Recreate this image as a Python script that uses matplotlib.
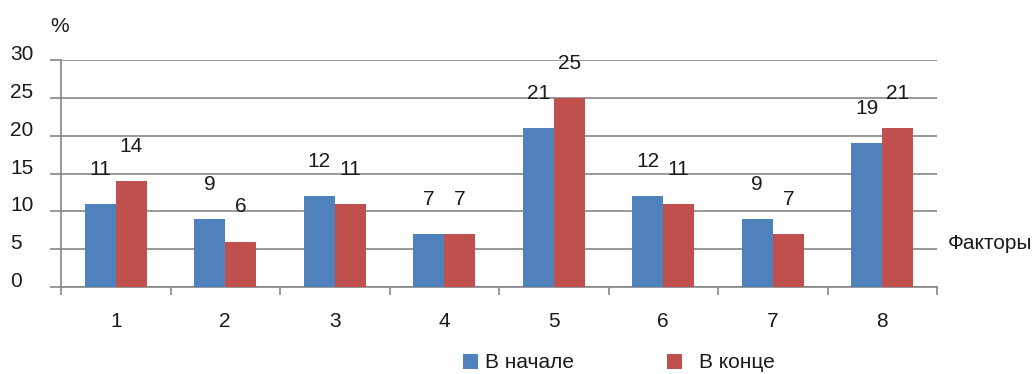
import matplotlib.pyplot as plt
import matplotlib.transforms as mtransforms
from matplotlib.patches import Patch
import numpy as np

plt.rcParams["font.family"] = ["Liberation Sans", "DejaVu Sans"]

# Данные по факторам, %
faktory = ["1", "2", "3", "4", "5", "6", "7", "8"]
v_nachale = [11, 9, 12, 7, 21, 12, 9, 19]
v_kontse = [14, 6, 11, 7, 25, 11, 7, 21]
y_ticks = [0, 5, 10, 15, 20, 25, 30]

cor_azul = "#4f81bd"
cor_verm = "#c0504d"
cor_grade = "#868686"
cor_texto = "#1a1a1a"
fonte = 15

fig = plt.figure(figsize=(10.35, 3.74), dpi=100)
ax = fig.add_axes([61 / 1035, 87 / 374, 876 / 1035, 227 / 374])

x = np.arange(len(faktory))
largura = 0.283

barras1 = ax.bar(x - largura / 2, v_nachale, largura, color=cor_azul, zorder=3)
barras2 = ax.bar(x + largura / 2, v_kontse, largura, color=cor_verm, zorder=3)

ax.set_xlim(-0.5, len(faktory) - 0.5)
ax.set_ylim(0, 30)

# rótulos de valor acima das barras
for barras, valores in [(barras1, v_nachale), (barras2, v_kontse)]:
    for b, v in zip(barras, valores):
        ax.annotate(str(v), (b.get_x() + b.get_width() / 2, v),
                    xytext=(0, 25), textcoords="offset points",
                    ha="center", va="center", fontsize=fonte, color=cor_texto)

# grade horizontal
ax.set_yticks(y_ticks)
ax.yaxis.grid(True, color=cor_grade, linewidth=1.2, zorder=0)
ax.tick_params(axis="y", length=8, width=1.2, color=cor_grade, labelleft=False)

# rótulos do eixo y alinhados à esquerda, apoiados na linha da grade
trans_y = mtransforms.blended_transform_factory(fig.transFigure, ax.transData)
for t in y_ticks:
    ax.text(10 / 1035, t, str(t), transform=trans_y, ha="left", va="baseline",
            fontsize=fonte, color=cor_texto)

# ticks do eixo x nas divisas, rótulos no centro
ax.set_xticks(np.arange(len(faktory) + 1) - 0.5)
ax.set_xticklabels([])
ax.set_xticks(x, minor=True)
ax.set_xticklabels(faktory, minor=True, fontsize=fonte, color=cor_texto)
ax.tick_params(axis="x", which="major", length=6, width=1.2, color=cor_grade)
ax.tick_params(axis="x", which="minor", length=0, pad=18)

for lado in ["top", "right"]:
    ax.spines[lado].set_visible(False)
for lado in ["left", "bottom"]:
    ax.spines[lado].set_color(cor_grade)
    ax.spines[lado].set_linewidth(1.2)

fig.text(50 / 1035, 1 - 26 / 374, "%", fontsize=fonte, color=cor_texto,
         ha="left", va="center")
fig.text(948 / 1035, 1 - 243 / 374, "Факторы", fontsize=fonte, color=cor_texto,
         ha="left", va="center")

# legenda em duas partes
leg1 = fig.legend([Patch(facecolor=cor_azul)], ["В начале"], loc="center left",
                  bbox_to_anchor=(444 / 1035, 1 - 363 / 374), frameon=False,
                  fontsize=fonte, handlelength=0.75, handleheight=0.75,
                  handletextpad=0.3, labelcolor=cor_texto)
leg2 = fig.legend([Patch(facecolor=cor_verm)], ["В конце"], loc="center left",
                  bbox_to_anchor=(648 / 1035, 1 - 363 / 374), frameon=False,
                  fontsize=fonte, handlelength=0.75, handleheight=0.75,
                  handletextpad=0.8, labelcolor=cor_texto)

plt.savefig("out.png", dpi=100)
